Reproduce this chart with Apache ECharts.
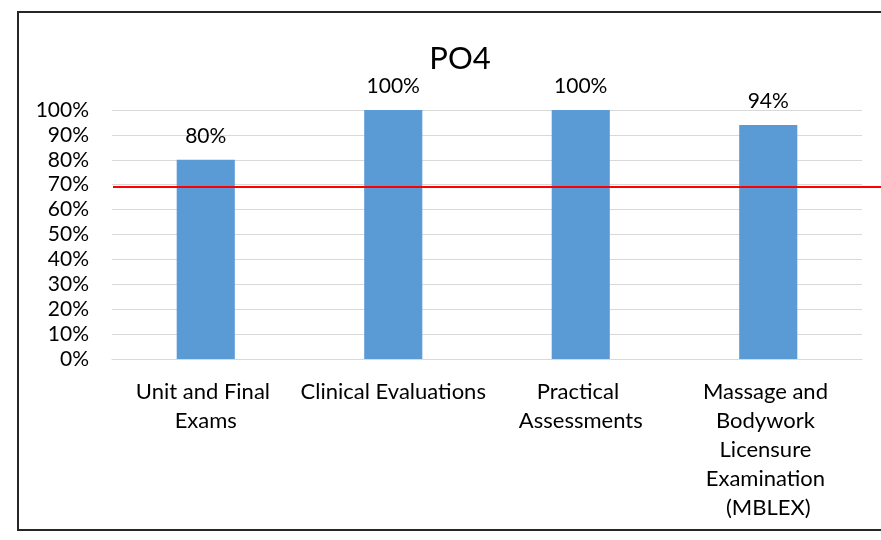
<!DOCTYPE html>
<html>
<head>
<meta charset="utf-8">
<script src="https://cdn.jsdelivr.net/npm/echarts@6/dist/echarts.min.js"></script>
<style>
  html, body { margin: 0; padding: 0; background: #fff; }
  #main { width: 881px; height: 540px; }
</style>
</head>
<body>
<div id="main"></div>
<script>
// PO4 results per assessment method
var chartTitle = "PO4";
var categories = [
  "Unit and Final Exams",
  "Clinical Evaluations",
  "Practical Assessments",
  "Massage and Bodywork Licensure Examination (MBLEX)"
];
var percentValues = [80, 100, 100, 94];
var benchmark = 69; // red target line
var yTicks = { min: 0, max: 100, step: 10 };

var fontName = "Lato";
var chart = echarts.init(document.getElementById("main"));

var option = {
  animation: false,
  title: {
    text: chartTitle,
    left: 455,
    top: 38,
    textAlign: "center",
    textStyle: { fontFamily: fontName, fontSize: 31, fontWeight: "normal", color: "#000" }
  },
  graphic: [
    {
      type: "rect",
      shape: { x: 18, y: 12, width: 1000, height: 518 },
      style: { fill: "none", stroke: "#262626", lineWidth: 2 },
      silent: true,
      z: 0
    }
  ],
  grid: {
    left: 112,
    right: 19,
    top: 110,
    bottom: 181,
    containLabel: false
  },
  xAxis: {
    type: "category",
    data: categories,
    axisLine: { show: true, lineStyle: { color: "#D9D9D9", width: 1 } },
    axisTick: { show: false },
    axisLabel: {
      interval: 0,
      margin: 18,
      width: 188,
      overflow: "break",
      lineHeight: 29,
      fontFamily: fontName,
      fontSize: 22,
      color: "#000"
    }
  },
  yAxis: {
    type: "value",
    min: yTicks.min,
    max: yTicks.max,
    interval: yTicks.step,
    axisLine: { show: false },
    axisTick: { show: false },
    splitLine: { lineStyle: { color: "#D9D9D9", width: 1 } },
    axisLabel: {
      formatter: "{value}%",
      margin: 23,
      fontFamily: fontName,
      fontSize: 21,
      color: "#000"
    }
  },
  series: [
    {
      type: "bar",
      data: percentValues,
      barWidth: "31%",
      itemStyle: { color: "#5B9BD5" },
      label: {
        show: true,
        position: "top",
        distance: 13,
        formatter: "{c}%",
        fontFamily: fontName,
        fontSize: 21,
        color: "#000"
      },
      markLine: {
        silent: true,
        symbol: ["none", "none"],
        label: { show: false },
        lineStyle: { color: "#FF0000", width: 2, type: "solid" },
        data: [
          [
            { yAxis: benchmark, x: 113 },
            { yAxis: benchmark, x: "100%" }
          ]
        ]
      }
    }
  ]
};

chart.setOption(option);
</script>
</body>
</html>
